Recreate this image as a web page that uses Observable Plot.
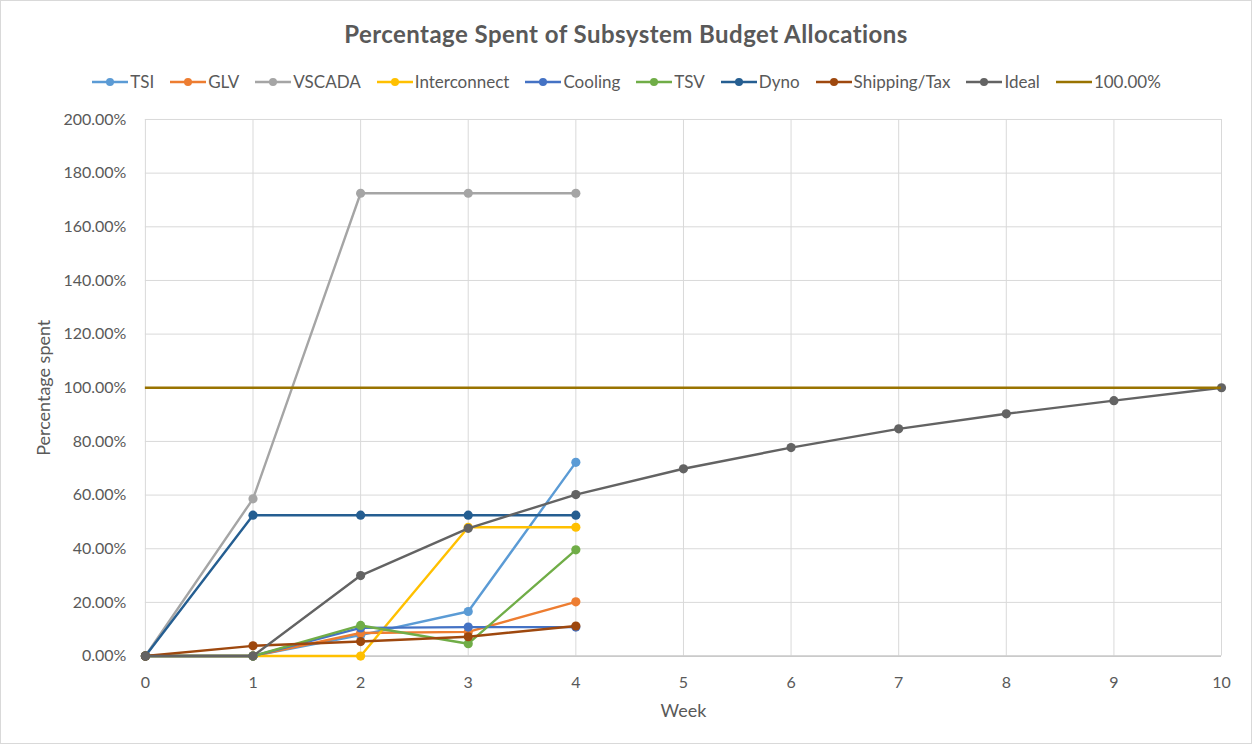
<!DOCTYPE html>
<html>
<head>
<meta charset="utf-8">
<script src="https://cdn.jsdelivr.net/npm/d3@7"></script>
<script src="https://cdn.jsdelivr.net/npm/@observablehq/plot@0.6"></script>
<style>
  html, body { margin: 0; padding: 0; background: #fff; }
  #wrap { position: relative; width: 1250px; height: 742px; border: 1px solid #d9d9d9; background: #fff; font-family: Lato, "Open Sans", sans-serif; color: #595959; overflow: hidden; }
  #title { position: absolute; left: 0; width: 1250px; top: 18px; text-align: center; font-size: 24px; letter-spacing: 0.45px; font-weight: bold; color: #595959; line-height: 30px; }
  #legend { position: absolute; left: 0; width: 1250px; top: 69px; display: flex; justify-content: center; gap: 15px; font-size: 17px; color: #595959; line-height: 24px; }
  #legend .item { display: flex; align-items: center; gap: 1px; }
  #chart { position: absolute; left: -1px; top: 99px; }
</style>
</head>
<body>
<div id="wrap">
  <div id="title">Percentage Spent of Subsystem Budget Allocations</div>
  <div id="legend"></div>
  <div id="chart"></div>
</div>
<script>
const weeks = [0, 1, 2, 3, 4];
const idealWeeks = [0, 1, 2, 3, 4, 5, 6, 7, 8, 9, 10];
const seriesNames = ["TSI", "GLV", "VSCADA", "Interconnect", "Cooling", "TSV", "Dyno", "Shipping/Tax", "Ideal"];
const seriesColors = ["#5B9BD5", "#ED7D31", "#A5A5A5", "#FFC000", "#4472C4", "#70AD47", "#255E91", "#9E480E", "#636363"];
const targetName = "100.00%";
const targetColor = "#997300";
const target = 100;

const tsi = [0, 0, 7.8, 16.6, 72.2];
const glv = [0, 0, 8.6, 9.0, 20.2];
const vscada = [0, 58.6, 172.5, 172.5, 172.5];
const interconnect = [0, 0, 0, 48.0, 48.0];
const cooling = [0, 0, 10.5, 10.8, 10.8];
const tsv = [0, 0, 11.4, 4.6, 39.6];
const dyno = [0, 52.5, 52.5, 52.5, 52.5];
const shipping = [0, 3.8, 5.4, 7.2, 11.2];
const ideal = [0, 0, 30.0, 47.6, 60.2, 69.8, 77.7, 84.7, 90.3, 95.2, 100];

const yTicks = [0, 20, 40, 60, 80, 100, 120, 140, 160, 180, 200];
const xLabel = "Week";
const yLabel = "Percentage spent";

const seriesValues = [tsi, glv, vscada, interconnect, cooling, tsv, dyno, shipping, ideal];
const rows = [];
seriesNames.forEach((name, i) => {
  const xs = name === "Ideal" ? idealWeeks : weeks;
  seriesValues[i].forEach((v, j) => rows.push({series: name, week: xs[j], value: v}));
});

const colorScale = {domain: seriesNames, range: seriesColors};

const marks = [
  Plot.gridX(idealWeeks, {stroke: "#d9d9d9", strokeOpacity: 1, strokeWidth: 1}),
  Plot.gridY(yTicks, {stroke: "#d9d9d9", strokeOpacity: 1, strokeWidth: 1}),
  Plot.ruleY([0], {stroke: "#bfbfbf", strokeWidth: 1.3}),
  Plot.axisY({ticks: yTicks, tickSize: 0, tickPadding: 19, tickFormat: d => d.toFixed(2) + "%", label: null, fontSize: 16}),
  Plot.axisX({ticks: idealWeeks, tickSize: 0, tickPadding: 21, label: null, fontSize: 16}),
  Plot.text([xLabel], {text: d => d, frameAnchor: "bottom", textAnchor: "middle", lineAnchor: "middle", dy: 55, fontSize: 18, fill: "#595959"}),
  Plot.text([yLabel], {text: d => d, frameAnchor: "left", textAnchor: "middle", lineAnchor: "middle", rotate: -90, dx: -101, fontSize: 18, fill: "#595959"}),
];
seriesNames.forEach(name => {
  const data = rows.filter(r => r.series === name);
  marks.push(Plot.line(data, {x: "week", y: "value", stroke: "series", strokeWidth: 2.4, curve: "linear"}));
  marks.push(Plot.dot(data, {x: "week", y: "value", fill: "series", r: 4.6, stroke: "none"}));
});
marks.push(Plot.ruleY([target], {stroke: targetColor, strokeWidth: 2.3}));

const chart = Plot.plot({
  width: 1252,
  height: 640,
  marginLeft: 145,
  marginRight: 30,
  marginTop: 19,
  marginBottom: 84,
  style: {fontFamily: "Lato, 'Open Sans', sans-serif", fontSize: "16px", color: "#595959", background: "transparent", overflow: "visible"},
  x: {domain: [0, 10], label: null},
  y: {domain: [0, 200], label: null},
  color: colorScale,
  marks
});
document.getElementById("chart").appendChild(chart);

// legend
const legend = document.getElementById("legend");
const legendItems = seriesNames.map((n, i) => ({name: n, color: seriesColors[i], marker: true}))
  .concat([{name: targetName, color: targetColor, marker: false}]);
legendItems.forEach(it => {
  const div = document.createElement("div");
  div.className = "item";
  const ns = "http://www.w3.org/2000/svg";
  const svg = document.createElementNS(ns, "svg");
  svg.setAttribute("width", 38); svg.setAttribute("height", 12);
  const ln = document.createElementNS(ns, "line");
  ln.setAttribute("x1", 1); ln.setAttribute("x2", 37); ln.setAttribute("y1", 6); ln.setAttribute("y2", 6);
  ln.setAttribute("stroke", it.color); ln.setAttribute("stroke-width", 2.4);
  svg.appendChild(ln);
  if (it.marker) {
    const c = document.createElementNS(ns, "circle");
    c.setAttribute("cx", 19); c.setAttribute("cy", 6); c.setAttribute("r", 4); c.setAttribute("fill", it.color);
    svg.appendChild(c);
  }
  div.appendChild(svg);
  const span = document.createElement("span");
  span.textContent = it.name;
  div.appendChild(span);
  legend.appendChild(div);
});
</script>
</body>
</html>
